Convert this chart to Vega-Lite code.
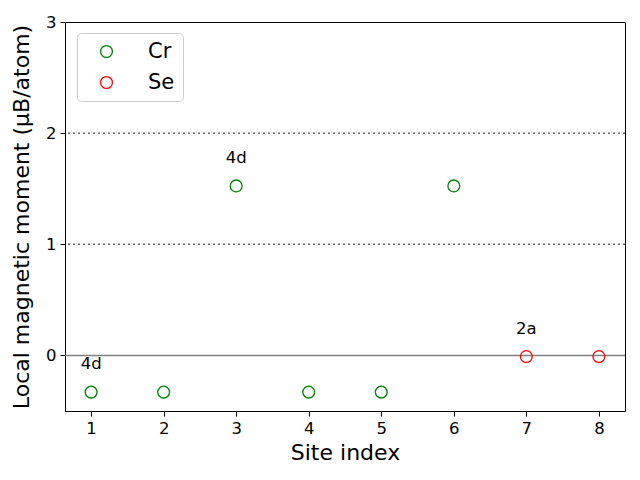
{
  "$schema": "https://vega.github.io/schema/vega-lite/v6.json",
  "width": 560,
  "height": 389,
  "autosize": "none",
  "padding": {"left": 65, "top": 22, "right": 15, "bottom": 69},
  "config": {
    "font": "DejaVu Sans",
    "view": {"stroke": "black", "strokeWidth": 1},
    "axis": {"labelFont": "DejaVu Sans", "titleFont": "DejaVu Sans", "labelFontSize": 16.5, "titleFontSize": 22, "titleFontWeight": "normal", "labelColor": "black", "titleColor": "black", "domainColor": "black", "tickColor": "black", "grid": false, "tickSize": 5, "labelPadding": 4}
  },
  "datasets": {
    "pts": [
      {"site": 1, "moment": -0.33, "element": "Cr"},
      {"site": 2, "moment": -0.33, "element": "Cr"},
      {"site": 3, "moment": 1.525, "element": "Cr"},
      {"site": 4, "moment": -0.33, "element": "Cr"},
      {"site": 5, "moment": -0.33, "element": "Cr"},
      {"site": 6, "moment": 1.525, "element": "Cr"},
      {"site": 7, "moment": -0.01, "element": "Se"},
      {"site": 8, "moment": -0.01, "element": "Se"}
    ],
    "labels": [
      {"site": 1, "ypos": -0.08, "label": "4d"},
      {"site": 3, "ypos": 1.775, "label": "4d"},
      {"site": 7, "ypos": 0.235, "label": "2a"}
    ],
    "hlines": [
      {"y": 1},
      {"y": 2}
    ],
    "zero": [{"y": 0}]
  },
  "layer": [
    {
      "data": {"name": "hlines"},
      "mark": {"type": "rule", "color": "#666666", "strokeDash": [2, 3], "strokeWidth": 1.5},
      "encoding": {"y": {"field": "y", "type": "quantitative", "scale": {"domain": [-0.5, 3], "nice": false, "zero": false}}}
    },
    {
      "data": {"name": "zero"},
      "mark": {"type": "rule", "color": "#808080", "strokeWidth": 1.5},
      "encoding": {"y": {"field": "y", "type": "quantitative"}}
    },
    {
      "data": {"name": "pts"},
      "mark": {"type": "point", "filled": false, "size": 140, "strokeWidth": 1.3, "opacity": 1},
      "encoding": {
        "x": {"field": "site", "type": "quantitative", "scale": {"domain": [0.64, 8.36], "nice": false, "zero": false}, "axis": {"values": [1,2,3,4,5,6,7,8], "format": "d", "title": "Site index", "titlePadding": 6}},
        "y": {"field": "moment", "type": "quantitative", "scale": {"domain": [-0.5, 3], "nice": false, "zero": false}, "axis": {"values": [0,1,2,3], "format": "d", "title": "Local magnetic moment (μB/atom)", "titlePadding": 12}},
        "color": {"field": "element", "type": "nominal", "scale": {"domain": ["Cr", "Se"], "range": ["green", "red"]},
          "legend": {"title": null, "orient": "none", "legendX": 12, "legendY": 11, "labelFontSize": 21, "labelFont": "DejaVu Sans", "labelColor": "black", "symbolSize": 140, "symbolStrokeWidth": 1.3, "symbolType": "circle", "symbolFillColor": "transparent", "symbolOffset": 11, "rowPadding": 9, "labelOffset": 31, "padding": 8, "strokeColor": "#cccccc", "fillColor": "white", "cornerRadius": 4, "offset": 0}}
      }
    },
    {
      "data": {"name": "labels"},
      "mark": {"type": "text", "fontSize": 16.5, "font": "DejaVu Sans", "color": "black"},
      "encoding": {
        "x": {"field": "site", "type": "quantitative"},
        "y": {"field": "ypos", "type": "quantitative"},
        "text": {"field": "label"}
      }
    }
  ]
}
